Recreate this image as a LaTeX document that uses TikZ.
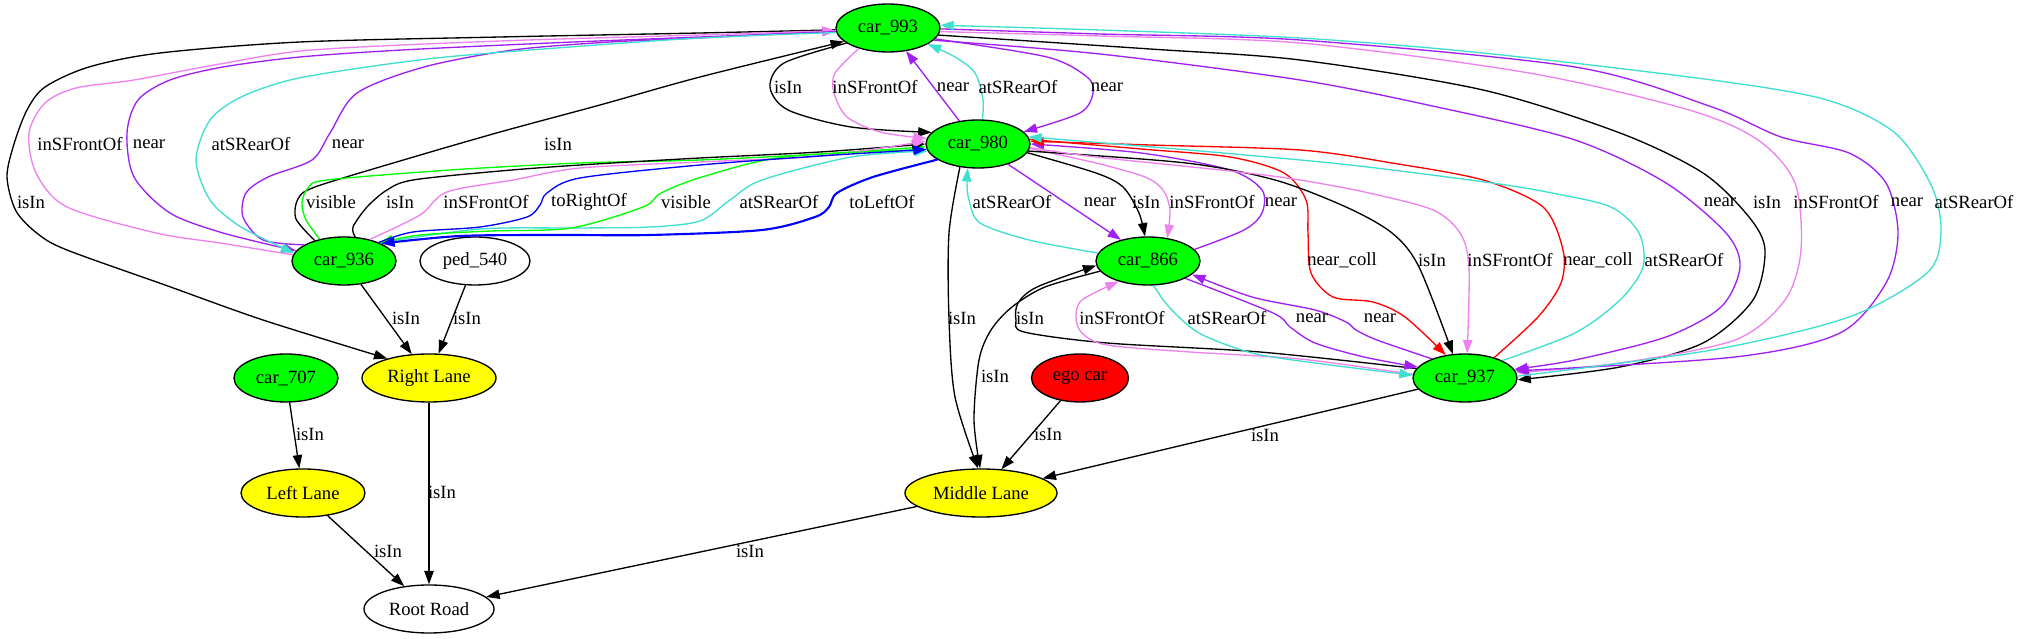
\documentclass[tikz,border=0pt]{standalone}
\usepackage{fontspec}
\setmainfont{Liberation Serif}
\usetikzlibrary{shapes.geometric,arrows.meta}
\definecolor{gvgreen}{RGB}{0,255,0}
\definecolor{gvyellow}{RGB}{255,255,0}
\definecolor{gvred}{RGB}{255,0,0}
\definecolor{gvviolet}{RGB}{238,130,238}
\definecolor{gvpurple}{RGB}{160,32,240}
\definecolor{gvturq}{RGB}{64,224,208}
\definecolor{gvblue}{RGB}{0,0,255}
\newcommand{\gvfs}{\fontsize{14}{16}\selectfont}
\tikzset{
  gvnode/.style={ellipse, draw=black, line width=1pt, inner sep=0pt, minimum height=36pt, minimum width=78pt, font=\gvfs},
  carnode/.style={gvnode, fill=gvgreen},
  lanenode/.style={gvnode, fill=gvyellow},
  lbl/.style={inner sep=0pt, font=\gvfs},
  e/.style={draw=black, line width=1pt, -{Triangle[length=10pt,width=7pt]}},
  evi/.style={e, draw=gvviolet},
  epu/.style={e, draw=gvpurple},
  etq/.style={e, draw=gvturq},
  egr/.style={e, draw=gvgreen},
  ebl/.style={e, draw=gvblue},
  ered/.style={e, draw=gvred},
  sm/.style={smooth, tension=0.5}
}
\begin{document}
\begin{tikzpicture}[x=0.75pt, y=0.75pt]
\useasboundingbox (0,0) rectangle (2018,639);
\fill[white] (0,0) rectangle (2018,639);

% nodes
\node[carnode] (car993) at (888,611) {car\_993};
\node[carnode] (car980) at (978,495) {car\_980};
\node[carnode] (car936) at (344,378) {car\_936};
\node[gvnode, minimum width=82.5pt] (ped540) at (475,378) {ped\_540};
\node[carnode] (car866) at (1148,378) {car\_866};
\node[carnode] (car707) at (286,261) {car\_707};
\node[lanenode, minimum width=100.5pt] (rightlane) at (429,261) {Right Lane};
\node[gvnode, fill=gvred, minimum width=72.75pt] (egocar) at (1080,261) {ego car};
\node[carnode] (car937) at (1465,261) {car\_937};
\node[lanenode, minimum width=93pt] (leftlane) at (303,146) {Left Lane};
\node[lanenode, minimum width=114pt] (middlelane) at (981,146) {Middle Lane};
\node[gvnode, minimum width=97.5pt] (rootroad) at (429,30) {Root Road};

% ---- car_993 <-> car_936 (left loops)
\draw[e] plot[sm] coordinates {(car993.182) (700,606) (500,602) (300,597) (160,586) (89,572) (45,552) (27,529) (14,495) (7,462) (16,428) (38,405) (67,389) (165,354) (263,319) (rightlane.155)};
\draw[epu] plot[sm] coordinates {(car936.158) (263,399) (243,422) (246,446) (268,462) (312,479) (330,506) (357,546) (424,572) (513,589) (610,597) (700,601) (car993.183)};
\draw[evi] plot[sm] coordinates {(car936.173) (220,396) (156,406) (67,432) (36,466) (29,506) (45,536) (76,551) (134,559) (220,575) (312,589) (500,598) (700,604) (car993.183)};
\draw[epu] plot[sm] coordinates {(car993.184) (700,602) (550,596) (402,589) (300,582) (223,572) (170,559) (138,539) (127,506) (134,462) (170,426) (223,406) (car936.168)};
\draw[etq] plot[sm] coordinates {(car993.185) (700,601) (570,592) (446,582) (360,571) (290,559) (241,542) (210,519) (196,479) (210,439) (241,412) (car936.171)};
\draw[e] plot[sm] coordinates {(car936.145) (296,420) (298,440) (315,452) (400,478) (500,507) (600,534) (700,562) (car993.197)};

% ---- car_936 <-> car_980
\draw[egr] plot[sm] coordinates {(car936.138) (306,419) (302,436) (308,451) (327,459) (450,469) (580,476) (700,479) (820,485) (car980.183)};
\draw[e] plot[sm] coordinates {(car936.65) (353,412) (367,432) (387,449) (413,459) (500,468) (580,474) (700,481) (820,487) (car980.180)};
\draw[evi] plot[sm] coordinates {(car936.40) (420,424) (447,447) (513,459) (580,471) (700,477) (820,483) (car980.177)};
\draw[etq] plot[sm] coordinates {(car936.27) (480,410) (580,411) (650,412) (700,418) (730,439) (762,459) (851,482) (car980.188)};
\draw[egr] plot[sm] coordinates {(car980.186) (784,482) (702,462) (661,446) (643,432) (571,411) (491,408) (420,404) (car936.27)};
\draw[ebl, line width=1.6pt] plot[sm] coordinates {(car980.201) (873,462) (837,446) (829,432) (815,422) (762,409) (650,404) (560,404) (460,403) (car936.25)};

% ---- car_993 <-> car_980
\draw[e] plot[sm] coordinates {(car993.200) (784,576) (770,552) (788,529) (851,512) (car980.166)};
\draw[evi] plot[sm] coordinates {(car993.215) (835,566) (834,546) (847,522) (880,507) (car980.174)};
\draw[epu] (car980.129) -- (car993.308);
\draw[etq] plot[sm] coordinates {(car980.80) (983,539) (975,566) (955,582) (car993.338)};
\draw[epu] plot[sm] coordinates {(car993.347) (1047,582) (1087,562) (1093,546) (1080,526) (car980.15)};
\draw[ebl] plot[sm] coordinates {(car936.28) (413,407) (480,412) (527,422) (540,434) (547,446) (580,461) (700,474) (820,483) (car980.186)};

% ---- car_980 <-> car_866
\draw[etq] plot[sm] coordinates {(car866.171) (1029,399) (980,416) (969,439) (967,456) (car980.247)};
\draw[epu] (car980.326) -- (car866.142);
\draw[e] plot[sm] coordinates {(car980.350) (1096,466) (1123,452) (1139,426) (car866.97)};
\draw[evi] plot[sm] coordinates {(car980.355) (1096,476) (1145,462) (1163,449) (1170,429) (car866.50)};
\draw[epu] plot[sm] coordinates {(car866.14) (1244,409) (1262,426) (1262,449) (1230,469) (1141,486) (car980.0)};

% ---- to Middle Lane / car_866 <-> car_937
\draw[e] plot[sm] coordinates {(car980.232) (949,406) (949,320) (955,242) (middlelane.97)};
\draw[e] plot[sm] coordinates {(car866.192) (1045,352) (1012,332) (991,309) (979,279) (974,219) (middlelane.92)};
\draw[e] plot[sm] coordinates {(car937.169) (1260,287) (1107,296) (1024,307) (1016,319) (1018,336) (1037,352) (car866.185)};
\draw[evi] plot[sm] coordinates {(car937.176) (1300,280) (1190,287) (1107,294) (1082,306) (1076,322) (1082,339) (car866.215)};
\draw[etq] plot[sm] coordinates {(car866.283) (1169,332) (1199,306) (1252,286) (1315,276) (car937.177)};
\draw[epu] plot[sm] coordinates {(car866.335) (1273,326) (1290,312) (1315,296) (1364,282) (car937.167)};
\draw[epu] plot[sm] coordinates {(car937.150) (1377,299) (1356,309) (1346,317) (1315,329) (1252,342) (car866.343)};

% ---- car_980 <-> car_937
\draw[ered] plot[sm] coordinates {(car980.5) (1141,490) (1230,482) (1284,466) (1306,439) (1308,406) (1311,366) (1333,342) (1373,337) (1405,322) (car937.130)};
\draw[e] plot[sm] coordinates {(car980.352) (1186,476) (1275,459) (1346,432) (1392,406) (1419,372) (car937.117)};
\draw[evi] plot[sm] coordinates {(car980.356) (1096,482) (1230,468) (1300,459) (1369,446) (1433,429) (1460,406) (1469,372) (car937.85)};
\draw[ered] plot[sm] coordinates {(car937.35) (1538,322) (1561,356) (1563,389) (1543,432) (1483,459) (1392,476) (1300,489) (1150,494) (car980.3)};
\draw[etq] plot[sm] coordinates {(car937.25) (1575,306) (1620,339) (1643,372) (1639,406) (1611,432) (1552,446) (1492,456) (1350,474) (1200,488) (car980.8)};

% ---- car_993 <-> car_937 (right loops)
\draw[epu] plot[sm] coordinates {(car993.345) (1100,585) (1300,559) (1437,532) (1575,499) (1666,456) (1726,406) (1740,372) (1721,332) (1666,302) (1575,279) (car937.10)};
\draw[e] plot[sm] coordinates {(car993.352) (1150,590) (1300,579) (1483,549) (1620,506) (1703,466) (1749,422) (1765,389) (1753,339) (1703,296) (1620,272) (car937.358)};
\draw[evi] plot[sm] coordinates {(car993.356) (1100,603) (1300,596) (1529,566) (1689,529) (1758,499) (1795,456) (1801,389) (1785,339) (1735,299) (1620,276) (car937.6)};
\draw[epu] plot[sm] coordinates {(car993.359) (1100,605) (1300,599) (1575,572) (1712,532) (1781,502) (1849,486) (1886,456) (1898,406) (1886,356) (1840,306) (1735,282) (car937.8)};
\draw[etq] plot[sm] coordinates {(car937.2) (1712,289) (1849,322) (1927,366) (1941,406) (1932,452) (1895,506) (1827,539) (1712,559) (1483,586) (1300,601) (1100,609) (car993.3)};

% ---- straight edges
\draw[e] (car936) -- (rightlane);
\draw[e] (ped540) -- (rightlane);
\draw[e] (car707) -- (leftlane);
\draw[e] (rightlane) -- (rootroad);
\draw[e] (leftlane) -- (rootroad);
\draw[e] (egocar) -- (middlelane);
\draw[e] (car937) -- (middlelane);
\draw[e] (middlelane) -- (rootroad);

% ---- labels
\node[lbl] (l01) at (788,552) {isIn};
\node[lbl] (l02) at (875,552) {inSFrontOf};
\node[lbl] (l03) at (953,552) {near};
\node[lbl] (l04) at (1018,552) {atSRearOf};
\node[lbl] (l05) at (1107,552) {near};
\node[lbl] (l06) at (80,495) {inSFrontOf};
\node[lbl] (l07) at (149,495) {near};
\node[lbl] (l08) at (251,495) {atSRearOf};
\node[lbl] (l09) at (348,495) {near};
\node[lbl] (l10) at (558,495) {isIn};
\node[lbl] (l11) at (31,437) {isIn};
\node[lbl] (l12) at (331,437) {visible};
\node[lbl] (l13) at (400,437) {isIn};
\node[lbl] (l14) at (486,437) {inSFrontOf};
\node[lbl] (l15) at (589,437) {toRightOf};
\node[lbl] (l16) at (686,437) {visible};
\node[lbl] (l17) at (779,437) {atSRearOf};
\node[lbl] (l18) at (882,437) {toLeftOf};
\node[lbl] (l19) at (1012,437) {atSRearOf};
\node[lbl] (l20) at (1100,437) {near};
\node[lbl] (l21) at (1146,437) {isIn};
\node[lbl] (l22) at (1212,437) {inSFrontOf};
\node[lbl] (l23) at (1281,437) {near};
\node[lbl] (l24) at (1720,437) {near};
\node[lbl] (l25) at (1767,437) {isIn};
\node[lbl] (l26) at (1836,437) {inSFrontOf};
\node[lbl] (l27) at (1907,437) {near};
\node[lbl] (l28) at (1974,437) {atSRearOf};
\node[lbl] (l29) at (1342,379) {near\_coll};
\node[lbl] (l30) at (1432,379) {isIn};
\node[lbl] (l31) at (1510,379) {inSFrontOf};
\node[lbl] (l32) at (1598,379) {near\_coll};
\node[lbl] (l33) at (1684,379) {atSRearOf};
\node[lbl] (l34) at (406,321) {isIn};
\node[lbl] (l35) at (467,321) {isIn};
\node[lbl] (l36) at (962,321) {isIn};
\node[lbl] (l37) at (1030,321) {isIn};
\node[lbl] (l38) at (1122,321) {inSFrontOf};
\node[lbl] (l39) at (1227,321) {atSRearOf};
\node[lbl] (l40) at (1312,321) {near};
\node[lbl] (l41) at (1380,321) {near};
\node[lbl] (l42) at (995,263) {isIn};
\node[lbl] (l43) at (310,205) {isIn};
\node[lbl] (l44) at (1048,205) {isIn};
\node[lbl] (l45) at (1265,204) {isIn};
\node[lbl] (l46) at (442,147) {isIn};
\node[lbl] (l47) at (388,88) {isIn};
\node[lbl] (l48) at (750,88) {isIn};
\end{tikzpicture}
\end{document}
